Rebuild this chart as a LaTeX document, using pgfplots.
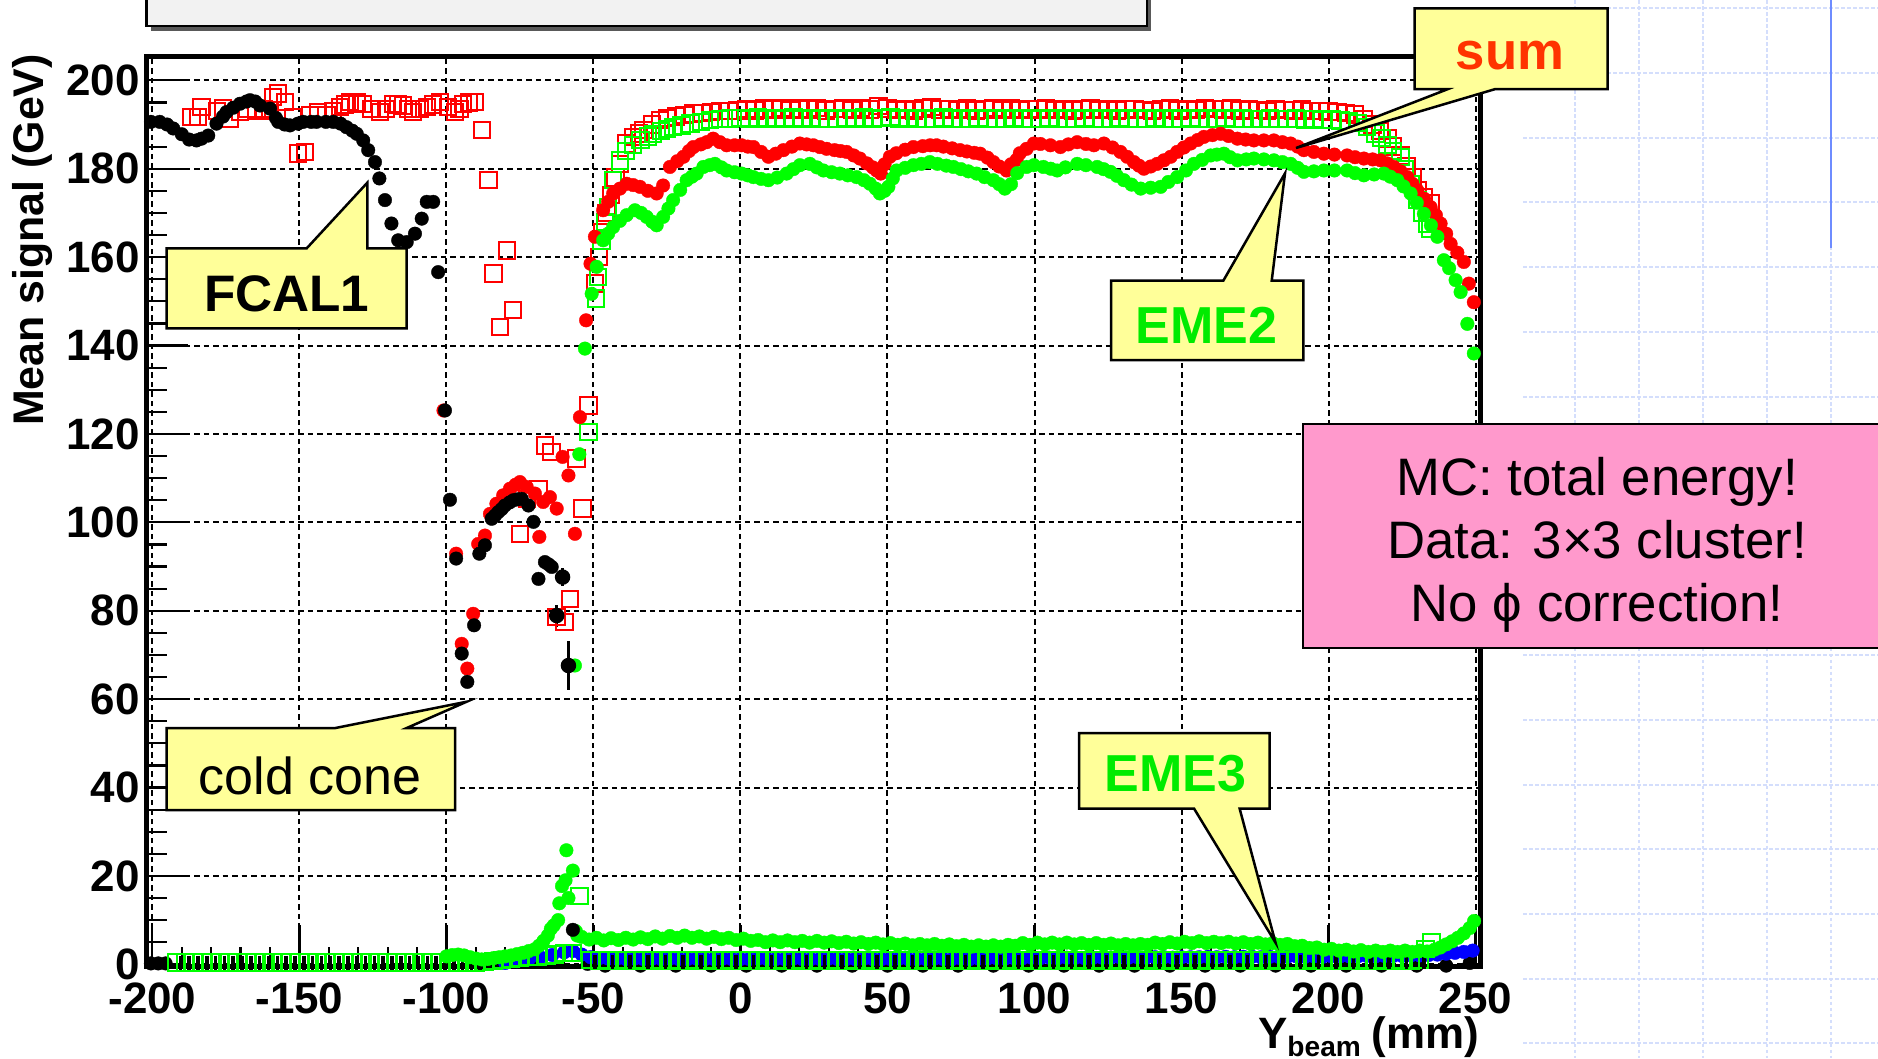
\documentclass[border=0pt]{standalone}
\usepackage{pgfplots}
\pgfplotsset{compat=1.18}
\usepackage{fontspec}
\setmainfont{Liberation Sans}
\definecolor{callyellow}{RGB}{255,255,153}
\definecolor{pinkbox}{RGB}{255,153,204}
\definecolor{sumred}{RGB}{255,51,0}
\definecolor{emegreen}{RGB}{0,235,0}
\definecolor{dgreen}{RGB}{0,255,0}
\definecolor{gridblue}{RGB}{212,222,252}
\definecolor{lineblue}{RGB}{110,140,255}
\definecolor{titlegray}{RGB}{242,242,242}
\newcommand{\tickfont}{\fontsize{12.5pt}{12.5pt}\selectfont\bfseries}
\pgfplotsset{
  dot/.style={only marks, mark=*, mark size=0.68mm, color=#1, mark options={solid, fill=#1, draw=#1, line width=0.1pt}},
  box/.style={only marks, mark=square, mark size=0.82mm, color=#1, mark options={solid, draw=#1, fill=none, line width=0.2mm}},
}
\begin{document}
\begin{tikzpicture}
\path[use as bounding box] (0,0) rectangle (187.8mm,105.8mm);
\begin{scope}[x=0.1mm, y=-0.1mm, shift={(0mm,105.8mm)}]
\foreach \gx in {1575,1639,1703,1767,1831} {\draw[gridblue, line width=0.15mm, dash pattern=on 0.35mm off 0.25mm] (\gx,0) -- (\gx,1058);}
\foreach \gy in {8,73,138,202,267,332,397,461,526,591,655,720,785,849,914,979,1043} {\draw[gridblue, line width=0.15mm, dash pattern=on 0.35mm off 0.25mm] (1523,\gy) -- (1878,\gy);}
\draw[lineblue, line width=0.25mm] (1831,0) -- (1831,248);
\fill[black!65] (150.5,-20) rectangle (1151,30.5);
\filldraw[fill=titlegray, draw=black, line width=0.25mm] (146.5,-20) rectangle (1147,26);
\end{scope}

\begin{axis}[
  at={(14.65mm,9.15mm)}, anchor=south west,
  scale only axis, width=133.35mm, height=91.05mm,
  xmin=-202, xmax=251.5, ymin=-0.5, ymax=205.5,
  xtick={-200,-150,-100,-50,0,50,100,150,200,250},
  xticklabels={-200,-150,-100,-50,0,50,100,150,200,250},
  ytick={0,20,40,60,80,100,120,140,160,180,200},
  yticklabels={0,20,40,60,80,100,120,140,160,180,200},
  minor x tick num=4, minor y tick num=3,
  xtick pos=left, ytick pos=left,
  tick align=inside,
  major tick length=4.2mm, minor tick length=2mm,
  tick style={black, line width=0.22mm},
  grid=major,
  major grid style={black, line width=0.2mm, dash pattern=on 0.55mm off 0.4mm},
  axis line style={line width=0.5mm},
  xticklabel style={font=\tickfont, anchor=north, inner sep=0pt, yshift=-1.6mm},
  yticklabel style={font=\tickfont, anchor=east, inner sep=0pt, xshift=-0.6mm},
  clip=false,
]
% ---- sum MC: red open squares
\addplot[box=red] coordinates {
(-186.7,191.7) (-184.4,191.7) (-183.3,194) (-178,193) (-175.9,193.6) (-173.6,191.3) (-170.2,192.8) (-167.9,193.6) (-164.6,193.2) (-162,193.5) (-160,193.2) (-158.9,196.2) (-157.2,197) (-154.9,195.1) (-152.1,191.7) (-150.4,183.4) (-148.1,183.8) (-146.4,192.1) (-143.6,192.8) (-140.8,192.1) (-138.5,193) (-136.2,194) (-134.5,194.5) (-132.8,195.1) (-130.5,195) (-128.3,194.7) (-125.5,193.5) (-122.6,192.8) (-120.5,193.5) (-118.1,194.7) (-116.5,194.5) (-114.7,194.3) (-113,193.5) (-111.3,192.8) (-109,193.5) (-106.7,194) (-104.5,194.5) (-102.2,195.1) (-99.5,194) (-97.1,192.8) (-95.5,193.5) (-94.3,194.7) (-92.3,195) (-90.3,195.1) (-88,188.7) (-85.7,177.4) (-84,156.3) (-81.8,144.2) (-79.5,161.5) (-77.3,148)
(-75,97.4) (-72.7,105.3) (-68.7,107.6) (-66.5,117.4) (-64.2,115.9) (-62.5,78.6) (-59.9,77.4) (-58,82.7) (-55.7,114.4) (-53.7,103.1) (-51.7,126.4)
(-49.5,154) (-48.2,160) (-47,165.7) (-45.5,170) (-44,174) (-42.5,178) (-41,181) (-38.7,185.7) (-36.5,187.2) (-34.5,188) (-33,188.7) (-30,190) (-27.4,191) (-25,191.5) (-22,191.8) (-19,192.2) (-16,192.5) (-13,192.6) (-10,192.8) (-7,193)
(-4,193) (-1,193.2) (2,193.5) (5,193.2) (8,193.6) (11,193.4) (14,193.8) (17,193.3) (20,193.6) (23,193.4) (26,193.7) (29,193.2) (32,193.5) (35,193.6) (38,193.3) (41,193.8) (44,193.4) (47,194.2) (50,193.6) (53,193.3) (56,193.5) (59,193.2) (62,193.6) (65,194) (68,193.4) (71,193.5) (74,193.3) (77,193.6) (80,193.2) (83,193.4) (86,193.7) (89,193.3) (92,193.6) (95,193.3) (98,193.5) (101,193.4) (104,193.6) (107,193.3) (110,193.5) (113,193.2) (116,193.4) (119,193.6) (122,193.3) (125,193.5) (128,193.2) (131,193.4) (134,193.5) (137,193.3) (140,193.1) (143,193.4) (146,193.6) (149,193.2) (152,193.5) (155,193.3) (158,193.8) (161,193.5) (164,193.4) (167,193.6) (170,193.2) (173,193.4) (176,193.3) (179,193.1) (182,193.5) (185,193.3) (188,193.2) (191,193.4) (194,193.1) (197,193) (200,192.9) (203,192.8) (206,192.6) (209,192.3) (212,191.3) (215,190) (217.5,188.5) (220,186.8) (222,185) (224.5,183) (226.5,180.5) (228.5,178) (230.2,175.1) (232.5,173.5) (234.7,172.1)
};
% ---- EME2 MC: green open squares
\addplot[box=dgreen] coordinates {
(-51.7,120.4) (-49.2,150.6) (-48.5,155.5) (-47.2,163.8) (-46,168) (-45,171.3) (-43.3,177.4) (-41,181.9) (-39,184) (-36.5,185.3) (-34,186.5) (-31.5,187.3) (-29.7,187.9) (-27,188.5) (-25,189) (-22.9,189.4) (-20,189.8) (-17,190.2) (-13.5,190.6) (-10.4,191) (-7,191.2) (-3.5,191.4)
(0,191.5) (3,191.3) (6,191.6) (9,191.2) (12,191.5) (15,191.3) (18,191.6) (21,191.2) (24,191.5) (27,191.3) (30,191.4) (33,191.2) (36,191.5) (39,191.3) (42,191.6) (45,191.2) (48,191.5) (51,191.7) (54,191.3) (57,191.5) (60,191.2) (63,191.4) (66,191.3) (69,191.6) (72,191.2) (75,191.4) (78,191.3) (81,191.5) (84,191.2) (87,191.4) (90,191.3) (93,191.5) (96,191.2) (99,191.4) (102,191.3) (105,191.5) (108,191.2) (111,191.4) (114,191.3) (117,191.5) (120,191.2) (123,191.4) (126,191.3) (129,191.5) (132,191.2) (135,191.4) (138,191.3) (141,191.5) (144,191.2) (147,191.4) (150,191.3) (153,191.5) (156,191.2) (159,191.4) (162,191.3) (165,191.5) (168,191.2) (171,191.4) (174,191.3) (177,191.2) (180,191.4) (183,191.3) (186,191.2) (189,191.4) (192,191.1) (195,191.2) (198,191) (201,191.1) (204,190.9) (207,190.8) (210,190.4) (213,189.4) (216,188) (218,187) (220,185.3) (222,184) (224.5,182.7) (226,180) (228,176.5) (230.2,172.9) (232,170) (233.6,167.6) (234.7,166.4)
};
% ---- black points on the zero line
\addplot[dot=black] coordinates {
(-200.5,0.2) (-198,0.2) (-195.5,0.2) (-52,0.1) (-46,-0.3) (-34,-0.3) (-22,-0.3) (-10,-0.3) (2,-0.3) (14,-0.3) (26,-0.3) (38,-0.3) (50,-0.3) (62,-0.3) (74,-0.3) (86,-0.3) (98,-0.3) (110,-0.3) (122,-0.3) (134,-0.3) (146,-0.3) (158,-0.3) (170,-0.3) (182,-0.3) (194,-0.3) (206,-0.3) (218,-0.3) (230,-0.3) (240,-0.3) (248,0.3)
};
% ---- blue data near zero
\addplot[dot=blue] coordinates {
(-80,0.3) (-76,0.7) (-72,1.1) (-68,1.6) (-64,2.1) (-60,2.7) (-57,3.0) (-54,2.2) (-51,1.6) (-48,1.4) (-45,1.3) (-42,1.3) (-39,1.2) (-36,1.3) (-33,1.2) (-30,1.3) (-27,1.2) (-24,1.3) (-21,1.2) (-18,1.2) (-15,1.3) (-12,1.2) (-9,1.2) (-6,1.3) (-3,1.2) (0,1.2) (3,1.2) (6,1.3) (9,1.2) (12,1.2) (15,1.2) (18,1.3) (21,1.2) (24,1.2) (27,1.2) (30,1.3) (33,1.2) (36,1.2) (39,1.2) (42,1.3) (45,1.2) (48,1.2) (51,1.2) (54,1.3) (57,1.2) (60,1.2) (63,1.2) (66,1.3) (69,1.2) (72,1.2) (75,1.3) (78,1.2) (81,1.3) (84,1.3) (87,1.4) (90,1.3) (93,1.4) (96,1.4) (99,1.5) (102,1.4) (105,1.5) (108,1.4) (111,1.5) (114,1.5) (117,1.4) (120,1.5) (123,1.5) (126,1.5) (129,1.6) (132,1.5) (135,1.6) (138,1.5) (141,1.6) (144,1.6) (147,1.5) (150,1.6) (153,1.6) (156,1.6) (159,1.7) (162,1.6) (165,1.7) (168,1.6) (171,1.7) (174,1.7) (177,1.6) (180,1.7) (183,1.7) (186,1.7) (189,1.8) (192,1.7) (195,1.8) (198,1.7) (201,1.8) (204,1.8) (207,1.8) (210,1.8) (213,1.9) (216,1.8) (219,1.9) (222,1.9) (225,1.9) (228,2.0) (231,2.0) (234,2.1) (237,2.2) (240,2.4) (243,2.6) (246,2.8) (249,3.1)
};
% ---- near-zero row: green open squares
\addplot[box=dgreen] coordinates {
(-192,0.4) (-189,0.4) (-186,0.4) (-183,0.4) (-180,0.4) (-177,0.4) (-174,0.4) (-171,0.4) (-168,0.4) (-165,0.4) (-162,0.4) (-159,0.4) (-156,0.4) (-153,0.4) (-150,0.4) (-147,0.4) (-144,0.4) (-141,0.4) (-138,0.4) (-135,0.4) (-132,0.4) (-129,0.4) (-126,0.4) (-123,0.4) (-120,0.4) (-117,0.4) (-114,0.4) (-111,0.4) (-108,0.4) (-105,0.4) (-102,0.4) (-99,0.4) (-96,0.4) (-93,0.4) (-90,0.4) (-87,0.5)
(-84,0.8) (-81,1.0) (-78,1.2) (-75,1.4) (-72,1.6) (-69,1.8) (-66,2.0) (-63,2.2) (-60,2.5) (-57,2.5) (-54.7,15.4)
(-51,1.0) (-48,0.9) (-45,1.0) (-42,0.9) (-39,1.0) (-36,0.9) (-33,1.0) (-30,0.9) (-27,1.0) (-24,0.9) (-21,1.0) (-18,0.9) (-15,1.0) (-12,0.9) (-9,1.0) (-6,0.9) (-3,1.0) (0,0.9) (3,1.0) (6,0.9) (9,1.0) (12,0.9) (15,1.0) (18,0.9) (21,1.0) (24,0.9) (27,1.0) (30,0.9) (33,1.0) (36,0.9) (39,1.0) (42,0.9) (45,1.0) (48,0.9) (51,1.0) (54,0.9) (57,1.0) (60,0.9) (63,1.0) (66,0.9) (69,1.0) (72,0.9) (75,1.0) (78,0.9) (81,1.0) (84,0.9) (87,1.0) (90,0.9) (93,1.0) (96,0.9) (99,1.0) (102,0.9) (105,1.0) (108,0.9) (111,1.0) (114,0.9) (117,1.0) (120,0.9) (123,1.0) (126,0.9) (129,1.0) (132,0.9) (135,1.0) (138,0.9) (141,1.0) (144,0.9) (147,1.0) (150,0.9) (153,1.0) (156,0.9) (159,1.0) (162,0.9) (165,1.0) (168,0.9) (171,1.0) (174,0.9) (177,1.0) (180,0.9) (183,1.0) (186,0.9) (189,1.0) (192,0.9) (195,1.0) (198,0.9) (201,1.0) (204,0.9) (207,1.0) (210,0.9) (213,1.0) (216,0.9) (219,1.0) (222,0.9) (225,1.0) (228,0.9) (231,1.0) (233,3.5) (235,5.0)
};
% ---- near-zero row: black bars
\addplot[only marks, mark=|, mark size=0.7mm, black, mark options={solid, draw=black, line width=0.35mm}] coordinates {
(-190.5,0.4) (-187.5,0.4) (-184.5,0.4) (-181.5,0.4) (-178.5,0.4) (-175.5,0.4) (-172.5,0.4) (-169.5,0.4) (-166.5,0.4) (-163.5,0.4) (-160.5,0.4) (-157.5,0.4) (-154.5,0.4) (-151.5,0.4) (-148.5,0.4) (-145.5,0.4) (-142.5,0.4) (-139.5,0.4) (-136.5,0.4) (-133.5,0.4) (-130.5,0.4) (-127.5,0.4) (-124.5,0.4) (-121.5,0.4) (-118.5,0.4) (-115.5,0.4) (-112.5,0.4) (-109.5,0.4) (-106.5,0.4) (-103.5,0.4) (-100.5,0.4) (-97.5,0.4) (-94.5,0.4) (-91.5,0.4) (-88.5,0.4)
(-49.5,0.5) (-43.5,0.5) (-37.5,0.5) (-31.5,0.5) (-25.5,0.5) (-19.5,0.5) (-13.5,0.5) (-7.5,0.5) (-1.5,0.5) (4.5,0.5) (10.5,0.5) (16.5,0.5) (22.5,0.5) (28.5,0.5) (34.5,0.5) (40.5,0.5) (46.5,0.5) (52.5,0.5) (58.5,0.5) (64.5,0.5) (70.5,0.5) (76.5,0.5) (82.5,0.5) (88.5,0.5) (94.5,0.5) (100.5,0.5) (106.5,0.5) (112.5,0.5) (118.5,0.5) (124.5,0.5) (130.5,0.5) (136.5,0.5) (142.5,0.5) (148.5,0.5) (154.5,0.5) (160.5,0.5) (166.5,0.5) (172.5,0.5) (178.5,0.5) (184.5,0.5) (190.5,0.5) (196.5,0.5) (202.5,0.5) (208.5,0.5) (214.5,0.5) (220.5,0.5) (226.5,0.5) (232.5,0.5)
};
% ---- sum data: red filled circles
\addplot[dot=red] coordinates {
(-101,125.3) (-96.7,92.9) (-94.8,72.5) (-92.9,66.9) (-90.9,79.3) (-89.2,95.1) (-86.9,97) (-85.2,101.9) (-83,104.2) (-80.7,106.1) (-78.4,107.6) (-76.5,108.5) (-75,109.1) (-72.7,108) (-69.9,106.5) (-68.4,96.7) (-67.1,104.6) (-64.8,105.7) (-62.5,103.1) (-60.5,114.8) (-58.5,110.6) (-56.3,97.4) (-54.6,123.8)
(-52.5,145.7) (-51,158.5) (-49.5,164.6) (-46.7,170.6) (-45,172.5) (-43.3,174.4) (-41,175.5) (-38.7,176.6) (-36.5,176.3) (-34.2,175.9) (-31.5,175) (-28.5,174.4) (-26.3,176.2) (-24,180.4) (-21.5,181.7) (-19.4,182.7) (-17.5,184) (-16,184.9) (-13.5,185.5) (-11.5,186) (-9.3,186.8) (-7,186) (-4.7,185.3) (-2,185.3) (0.4,185.3) (2.5,185) (4.4,184.9) (7,183.8) (9.5,182.7) (12,183.4) (14.6,184.2) (17.5,185) (20.2,185.7) (22.5,185.5) (24.8,185.3) (27,184.9) (29.3,184.5) (32,184.2) (34,184) (36.1,183.8) (38.5,183) (40.6,182.3) (43,181.2) (45,180.3) (46.3,179.6) (47.7,178.9) (49,181) (50.8,182.7) (53,183.5) (56,184.3) (58.8,184.9) (62,185.1) (64.5,185.3) (66.7,185.3) (69,185) (72,184.6) (74.7,184.2) (77,183.9) (79.5,183.6) (81.5,183.4) (84,182.5) (86,181.5) (88,180.5) (90.5,179.6) (92,181) (93.9,182) (95,183.5) (97.3,184.5) (99.8,185.7) (102,185.6) (105.4,185.3) (108.8,184.9) (111.5,185.5) (114.5,186) (117.5,185.6) (120.2,185.3) (123.6,185.7) (126.5,184.8) (129.2,183.8) (131.5,182.7) (133.8,181.5) (135.5,180.7) (137.2,180) (139.5,180.5) (141.7,181.1) (144,181.9) (146.3,182.7) (148.5,183.8) (150.8,184.8) (153.1,185.7) (155.5,186.5) (157.6,187.2) (160.5,187.6) (163.3,187.9) (166,187.4) (169,186.8) (171.8,186.6) (174.6,186.4) (178,186.4) (181.4,186.4) (184.3,186) (187.1,185.7) (189.5,185) (191.6,184.2) (195,183.8) (198.4,183.4) (202,183.2) (206.3,183) (209,182.6) (212,182.3) (215,182.1) (217.7,181.9) (220,181.2) (222.2,180.4) (224.5,179.4) (226.8,178.1) (228.5,176.6) (230.2,175.1) (232.5,173.2) (234.7,171.3) (236.5,169.5) (238.1,167.6) (240,165.3) (241.5,163) (243.8,161) (246,158.9) (247.7,154) (249.4,149.8)
};
% ---- EME2 data: green filled circles
\addplot[dot=dgreen] coordinates {
(-56.3,67.6) (-54.8,115.4) (-52.9,139.3) (-50.6,151.7) (-48.9,157.8) (-46.7,163.8) (-45,165.3) (-43.3,166.8) (-41,168.2) (-38.7,169.5) (-35.9,170.6) (-33.8,170) (-31.9,169.1) (-30,168) (-28.5,167.2) (-26.3,169.1) (-24.5,171) (-22.9,172.9) (-20.5,175.2) (-18.3,177.4) (-16.5,178.2) (-14.9,178.9) (-12.6,180.4) (-10.5,180.8) (-8.7,181.1) (-6.5,180.3) (-4.7,179.6) (-2,179.2) (0.4,178.9) (2.5,178.5) (4.4,178.1) (7,177.7) (9.5,177.4) (12.5,178) (15.7,178.9) (18,179.9) (20.2,180.8) (23.6,181.1) (26,180.3) (28.2,179.6) (31,179.2) (33.8,178.9) (36.5,178.5) (39.5,178.1) (42,177.4) (44,176.6) (46,175.5) (47.4,174.4) (49,175) (50.3,175.9) (51.8,177.8) (53.1,179.6) (56,180.2) (58.8,180.8) (61.5,181.1) (64.4,181.5) (67,181.1) (70,180.7) (72.4,180.4) (75,179.9) (77.5,179.4) (80.3,178.9) (83,178.1) (86,177.4) (88,176.5) (89.9,175.5) (92,176.5) (94.1,179) (97.3,180.4) (99.8,180.8) (103,180.4) (105.5,180) (107.7,179.6) (110.5,180.3) (114.5,181.1) (117.5,180.8) (121.3,180.4) (123.5,179.9) (125.8,179.3) (128,178.4) (130.4,177.4) (133,176.4) (136.1,175.5) (139.5,175.7) (142.9,175.9) (145.5,177) (148.5,178.1) (151.5,179.6) (154.2,181.1) (157,182) (159.9,183) (162,183.2) (164.4,183.4) (166.5,182.6) (169,181.9) (172,182.1) (174.6,182.3) (178,182.1) (181.4,181.9) (184.3,181.5) (187.1,181.1) (189.5,180.2) (191.6,179.3) (195,179.4) (198.4,179.6) (202,179.6) (206.3,179.6) (209,179) (212,178.5) (215.5,178.7) (218.8,178.9) (221,178.2) (223.4,177.4) (225.5,176) (227.9,174.4) (230,172.3) (232.4,169.8) (234.8,167.2) (237,164.6) (239.2,159.3) (241,157.5) (243.2,154.8) (244.9,152.1) (247.2,144.9) (249.4,138.2)
};
% ---- EME3 data: green filled circles near zero
\addplot[dot=dgreen] coordinates {
(-100,1.8) (-98,2.1) (-96,2.2) (-94,2.0) (-92,1.6) (-90,1.3) (-88,1.1) (-86,1.2) (-84,1.4) (-82,1.6) (-80,1.8) (-78,2.0) (-76,2.3) (-74,2.6) (-72,3.0) (-70,3.4) (-68.5,4.2) (-67,5.3) (-65.5,6.5) (-64.5,8.0) (-63.5,8.8) (-62,10) (-61.6,13.8) (-60.7,17.7) (-59.5,19) (-59.2,25.8) (-58.5,15) (-57,21.2) (-56,7.5) (-55.5,6.5)
(-54,6.2) (-51.5,5.6) (-49,6.0) (-46.5,5.4) (-44,5.9) (-41.5,5.5) (-39,6.0) (-36.5,5.6) (-34,6.1) (-31.5,5.7) (-29,6.3) (-26.5,5.8) (-24,6.4) (-21.5,6.0) (-19,6.5) (-16.5,6.0) (-14,6.3) (-11.5,5.8) (-9,6.2) (-6.5,5.7) (-4,6.0) (-1.5,5.5) (1,5.8) (3.5,5.3) (6,5.5) (8.5,5.0) (11,5.4) (13.5,5.0) (16,5.4) (18.5,5.0) (21,5.3) (23.5,4.9) (26,5.3) (28.5,4.9) (31,5.2) (33.5,4.8) (36,5.1) (38.5,4.7) (41,5.0) (43.5,4.6) (46,4.9) (48.5,4.5) (51,4.8) (53.5,4.4) (56,4.7) (58.5,4.3) (61,4.6) (63.5,4.3) (66,4.6) (68.5,4.2) (71,4.5) (73.5,4.1) (76,4.4) (78.5,4.0) (81,4.3) (83.5,4.0) (86,4.3) (88.5,4.0) (91,4.4) (93.5,4.2) (96,4.8) (98.5,4.4) (101,4.9) (103.5,4.5) (106,4.9) (108.5,4.5) (111,4.9) (113.5,4.5) (116,4.8) (118.5,4.4) (121,4.8) (123.5,4.4) (126,4.7) (128.5,4.3) (131,4.6) (133.5,4.3) (136,4.6) (138.5,4.4) (141,4.9) (143.5,4.6) (146,5.0) (148.5,4.7) (151,5.1) (153.5,4.8) (156,5.2) (158.5,4.8) (161,5.1) (163.5,4.8) (166,5.1) (168.5,4.7) (171,5.0) (173.5,4.6) (176,4.9) (178.5,4.5) (181,4.8) (183.5,4.4) (186,4.6) (188.5,4.1) (191,4.2) (193.5,3.7) (196,3.8) (198.5,3.3) (201,3.5) (203.5,3.1) (206,3.3) (208.5,2.9) (211,3.2) (213.5,2.8) (216,3.1) (218.5,2.8) (221,3.1) (223.5,2.8) (226,3.1) (228.5,2.8) (231,3.1) (233.5,2.9) (236,3.3) (238,3.8) (240,4.5) (242,5.2) (244,6.0) (246,7.0) (248,8.2) (249.5,9.8)
};
% ---- FCAL1 data: black filled circles
\addplot[dot=black] coordinates {
(-200.5,190.6) (-197.5,190.6) (-195,190) (-192.9,189.1) (-190,187.8) (-187.5,186.6) (-185,186.4) (-183.3,186.8) (-181,187.5) (-178.2,190.2) (-176,191.8) (-174.8,192.8) (-172.5,193.8) (-170.2,194.7) (-168,195.2) (-166.8,195.5) (-165,195.2) (-163.4,194.3) (-160,193.6) (-158,191.5) (-157.2,190.6) (-155,190) (-153.2,189.8) (-150.5,190.2) (-148.7,190.6) (-146,190.6) (-144.2,190.6) (-141,190.6) (-138.5,190.6) (-136,190.2) (-134,189.4) (-132,188.6) (-130.5,187.9) (-128.3,186.4) (-126.6,184.2) (-124.3,181.5) (-122.8,177.8) (-120.9,172.9) (-118.7,167.6) (-116.4,163.8) (-113.5,163.4) (-110.7,165.3) (-108.4,168.7) (-106.7,172.5) (-104.5,172.5) (-102.8,156.6)
(-100.5,125.3) (-98.8,105.1) (-96.7,91.8) (-94.8,70.3) (-92.9,63.9) (-90.6,76.7) (-88.8,92.9) (-86.9,94.8) (-84.6,100.8) (-83.5,101.5) (-82.4,102.3) (-81.2,103) (-80.1,103.8) (-78.5,104.5) (-77.2,105) (-75.8,105.2) (-74.4,105.3) (-72.1,103.8) (-70.4,100.1) (-68.7,87.2) (-66.5,91) (-65.3,90.5) (-64.2,89.9) (-62.5,78.9) (-60.5,87.6) (-58.5,67.6) (-57,7.8)
};
% ---- error bars on a few black points
\addplot[only marks, mark=none, black, error bars/.cd, y dir=both, y explicit, error mark=none, error bar style={line width=0.3mm, black}] coordinates {
(-58.5,67.6) +- (0,5.5) (-62.5,78.9) +- (0,2.5) (-60.5,87.6) +- (0,2)
};
\end{axis}

\begin{scope}[x=0.1mm, y=-0.1mm, shift={(0mm,105.8mm)}]
\node[rotate=90, inner sep=0pt] at (33,240) {\fontsize{12.2pt}{12.2pt}\selectfont\bfseries Mean signal (GeV)};
\node[anchor=base east, inner sep=0pt] at (1480,1048) {\fontsize{12.5pt}{12.5pt}\selectfont\bfseries Y\raisebox{-0.8mm}{\fontsize{8pt}{8pt}\selectfont beam}\hspace{0.25em}(mm)};
\filldraw[fill=callyellow, draw=black, line width=0.25mm, line join=miter]
 (166.7,248.3) -- (306.7,248.3) -- (367.3,182.7) -- (367.3,248.3) -- (406.7,248.3) -- (406.7,328.3) -- (166.7,328.3) -- cycle;
\node[inner sep=0pt] at (286.8,293.4) {\fontsize{14.6pt}{14.6pt}\selectfont\bfseries FCAL1};
\filldraw[fill=callyellow, draw=black, line width=0.25mm, line join=miter]
 (166.5,728) -- (335.4,728) -- (466.7,701.7) -- (406.7,728) -- (455,728) -- (455,810) -- (166.5,810) -- cycle;
\node[inner sep=0pt] at (310.2,775.5) {\fontsize{14.8pt}{14.8pt}\selectfont cold cone};
\filldraw[fill=callyellow, draw=black, line width=0.25mm, line join=miter]
 (1414.6,8.4) -- (1607.6,8.4) -- (1607.6,89.2) -- (1494.8,89.2) -- (1296,148) -- (1447.6,89.2) -- (1414.6,89.2) -- cycle;
\node[inner sep=0pt, text=sumred] at (1510,56) {\fontsize{15pt}{15pt}\selectfont\bfseries sum};
\filldraw[fill=callyellow, draw=black, line width=0.25mm, line join=miter]
 (1111,280.7) -- (1223.3,280.7) -- (1285,173.3) -- (1271.7,280.7) -- (1303.3,280.7) -- (1303.3,360) -- (1111,360) -- cycle;
\node[inner sep=0pt, text=emegreen] at (1206.7,325.2) {\fontsize{14.8pt}{14.8pt}\selectfont\bfseries EME2};
\filldraw[fill=callyellow, draw=black, line width=0.25mm, line join=miter]
 (1079,733) -- (1269.6,733) -- (1269.6,808.5) -- (1239.6,808.5) -- (1275.5,942.6) -- (1194,808.5) -- (1079,808.5) -- cycle;
\node[inner sep=0pt, text=emegreen] at (1175.5,773.7) {\fontsize{14.8pt}{14.8pt}\selectfont\bfseries EME3};
\filldraw[fill=pinkbox, draw=black, line width=0.25mm] (1303,424) rectangle (1895,648);
\node[anchor=base, inner sep=0pt] at (1597,495) {\fontsize{15pt}{15pt}\selectfont MC: total energy!};
\node[anchor=base, inner sep=0pt] at (1597,558) {\fontsize{15pt}{15pt}\selectfont Data: 3×3 cluster!};
\node[anchor=base, inner sep=0pt] at (1597,621) {\fontsize{15pt}{15pt}\selectfont No ϕ correction!};
\end{scope}
\end{tikzpicture}
\end{document}
